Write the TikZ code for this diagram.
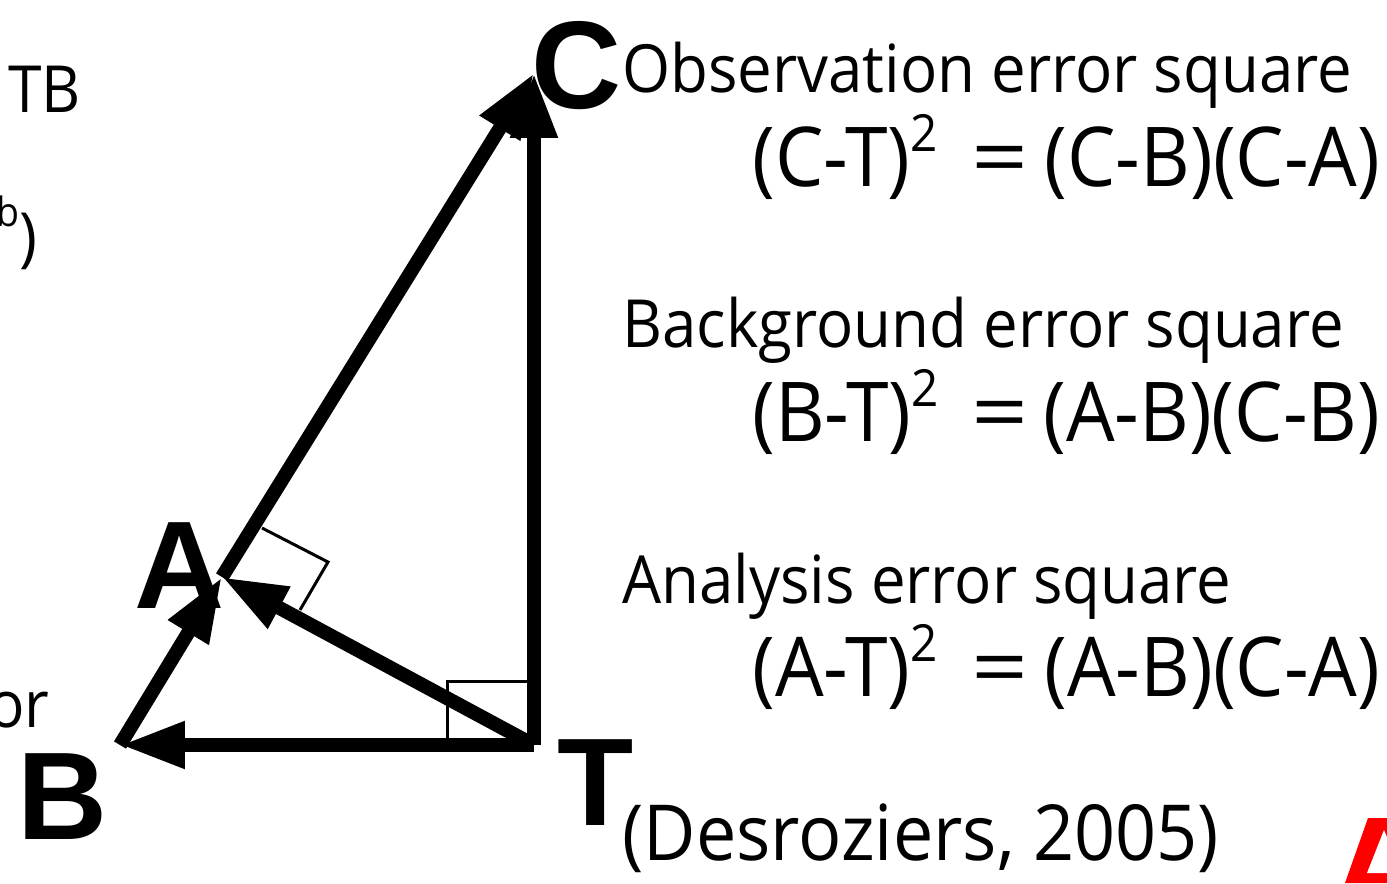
\documentclass[tikz,border=0pt]{standalone}
\usepackage{fontspec}
\setmainfont{Open Sans}[FakeStretch=0.93]
\newfontfamily\lblfont{Liberation Sans}
\usetikzlibrary{arrows.meta,calc}
\newcommand\sqtwo{\raisebox{0.42em}{\scalebox{0.62}{2}}}
\newcommand\eqline[2]{\makebox[4.26cm][l]{#1\sqtwo}\makebox[1.4cm][c]{\scalebox{1.3}[1]{=}}\makebox[6.9cm][r]{#2}}
\begin{document}
\begin{tikzpicture}[x=0.02cm,y=-0.02cm,
  vec/.style={line width=0.28cm,-{Triangle[length=1.3cm,width=0.88cm]}},
  rtmark/.style={line width=0.06cm},
  lbl/.style={inner sep=0pt,font=\lblfont\bfseries\fontsize{71}{80}\selectfont},
  hd/.style={inner sep=0pt,anchor=base west,font=\fontsize{37.8}{44}\selectfont},
  eq/.style={inner sep=0pt,anchor=base west,font=\fontsize{47}{54}\selectfont},
  cut/.style={inner sep=0pt,anchor=base east,font=\fontsize{37}{44}\selectfont}]
\useasboundingbox (0,0) rectangle (1387,883);
\clip (0,0) rectangle (1387,883);
\fill[white] (0,0) rectangle (1387,883);
% points
\coordinate (T) at (534,745);
\coordinate (B) at (120,745);
\coordinate (A) at (222,577);
\coordinate (C) at (534,73);
% right-angle marks
\draw[rtmark] (447,742) -- (447,681) -- (533,681);
\draw[rtmark] (262,528) -- (328,562) -- (300,610);
% vectors
\draw[vec] (T) -- (C);
\draw[vec] (A) -- (C);
\draw[vec] (T) -- (B);
\draw[vec] (B) -- (A);
\draw[vec] (T) -- (A);
% point labels
\node[lbl] (lC) at (577,66) {C};
\node[lbl] (lA) at (180,566) {A};
\node[lbl] (lB) at (63,797) {B};
\node[lbl] (lT) at (596,783) {T};
% texts
\node[hd] (obs) at (622,92) {Observation error square};
\node[eq] (eq1) at (752,186) {\eqline{(C-T)}{(C-B)(C-A)}};
\node[hd] (bg) at (622,347) {Background error square};
\node[eq] (eq2) at (752,441) {\eqline{(B-T)}{(A-B)(C-B)}};
\node[hd] (an) at (622,603) {Analysis error square};
\node[eq] (eq3) at (752,696) {\eqline{(A-T)}{(A-B)(C-A)}};
\node[inner sep=0pt,anchor=base west,font=\fontsize{44}{52}\selectfont] (ref) at (622,860) {(Desroziers, 2005)};
% cut-off texts at left edge
\node[cut] (tb) at (81,112) {TB};
\node[cut] (bp) at (38,259) {\raisebox{0.5em}{\scalebox{0.62}{b}})};
\node[cut] (orr) at (50,727) {or};
% red partial shape at bottom right
\fill[red] (1345,883) -- (1368,818) -- (1410,818) -- (1432,883) -- cycle;
\fill[white] (1367,873) -- (1384,830) -- (1402,873) -- cycle;
\end{tikzpicture}
\end{document}
